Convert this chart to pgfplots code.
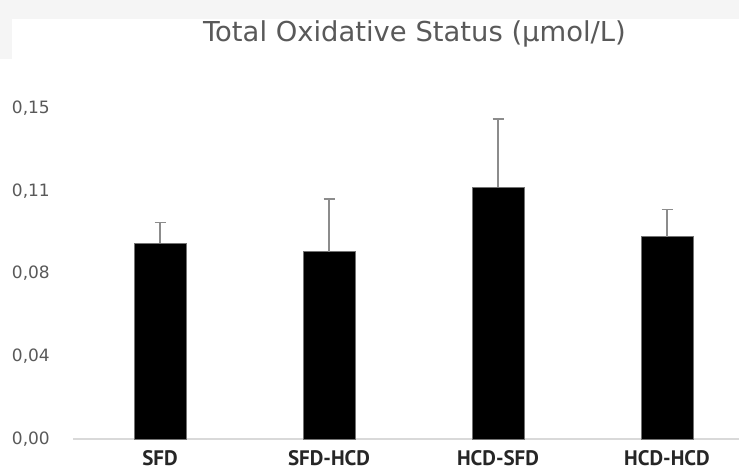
\documentclass[border=0pt]{standalone}
\usepackage{fontspec}
\setmainfont{DejaVu Sans}
\newfontfamily\ptsans{PT Sans}
\usepackage{pgfplots}
\pgfplotsset{compat=1.18}
\definecolor{axgray}{HTML}{D9D9D9}
\definecolor{txtgray}{HTML}{595959}
\definecolor{errgray}{HTML}{8C8C8C}
\begin{document}
\begin{tikzpicture}[x=1pt,y=1pt]
\useasboundingbox (0,0) rectangle (739,469);
\fill[black!4] (0,450) rectangle (739,469);
\fill[black!4] (0,410) rectangle (12,450);
\begin{axis}[
  at={(73pt,30pt)}, anchor=south west,
  scale only axis, width=666pt, height=331pt,
  xmin=-0.515, xmax=3.426, ymin=0, ymax=0.15,
  axis y line=none, axis x line=bottom,
  x axis line style={-, color=axgray, line width=1.2pt},
  xtick={0,1,2,3}, xticklabels={SFD,SFD-HCD,HCD-SFD,HCD-HCD},
  major tick length=0pt,
  xticklabel style={anchor=base, inner sep=0pt, yshift=-26pt, font=\ptsans\fontsize{21}{23}\selectfont\bfseries, text=black!85},
  ytick=\empty,
  clip=false,
]
\addplot[ybar, bar width=52pt, fill=black, draw=black!55, line width=0.6pt,
  error bars/.cd, y dir=plus, y explicit,
  error bar style={color=errgray, line width=1.6pt},
  error mark options={rotate=90, mark size=5.5pt, color=errgray, line width=1.6pt}]
  coordinates {
  (0,0.0888) +- (0,0.0093)
  (1,0.0849) +- (0,0.0239)
  (2,0.1141) +- (0,0.0310)
  (3,0.0917) +- (0,0.0123)
  };
\end{axis}
\foreach \v/\l in {0/{0,00},0.0375/{0,04},0.075/{0,08},0.1125/{0,11},0.15/{0,15}}{
  \node[anchor=east, inner sep=0pt, text=txtgray, font=\fontsize{17}{19}\selectfont] at (50, {30+\v*331/0.15}) {\l};
}
\node[anchor=base, text=txtgray, font=\fontsize{27.4}{31}\selectfont] at (414.5,427) {Total Oxidative Status (µmol/L)};
\end{tikzpicture}
\end{document}
